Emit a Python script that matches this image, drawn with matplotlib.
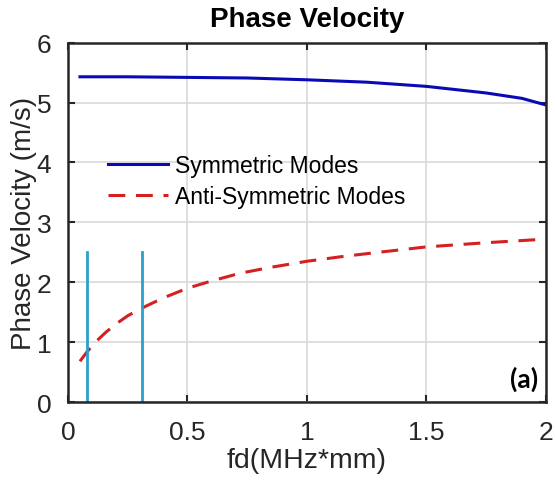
import numpy as np
import matplotlib
matplotlib.use('Agg')
import matplotlib.pyplot as plt

# values
fd_sym = [0.05, 0.25, 0.5, 0.75, 1.0, 1.25, 1.5, 1.75, 1.9, 2.0]
vel_sym = [5.43, 5.43, 5.42, 5.41, 5.38, 5.34, 5.27, 5.16, 5.07, 4.96]

fd_anti = [0.05, 0.08, 0.12, 0.16, 0.2, 0.25, 0.31, 0.4, 0.5, 0.6, 0.72, 0.85,
           1.0, 1.15, 1.3, 1.5, 1.75, 2.0]
vel_anti = [0.68, 0.84, 1.02, 1.17, 1.30, 1.44, 1.57, 1.74, 1.90, 2.02, 2.15, 2.25,
            2.35, 2.43, 2.50, 2.59, 2.66, 2.72]

marker_fd = [0.08, 0.31]
marker_top = 2.5

xticks = [0, 0.5, 1, 1.5, 2]
xticklabels = ['0', '0.5', '1', '1.5', '2']
yticks = [0, 1, 2, 3, 4, 5, 6]

plt.rcParams['font.family'] = ['Liberation Sans', 'DejaVu Sans']

fig = plt.figure(figsize=(5.55, 4.85), dpi=100)
ax = fig.add_axes([0.1225, 0.169, 0.861, 0.741])

ax.plot(fd_sym, vel_sym, color='#0a0ab4', lw=2.2, label='Symmetric Modes')
ax.plot(fd_anti, vel_anti, color='#d42020', lw=2.2, ls=(0, (5.5, 3.5)),
        label='Anti-Symmetric Modes')
for f in marker_fd:
    ax.plot([f, f], [0, marker_top], color='#2aa0cc', lw=2)

ax.set_xlim(0, 2)
ax.set_ylim(0, 6)
ax.set_xticks(xticks)
ax.set_xticklabels(xticklabels)
ax.set_yticks(yticks)
ax.grid(True, color='#d9d9d9', lw=1.2)
ax.set_axisbelow(True)
ax.tick_params(direction='in', top=True, right=True, length=5, width=1.5,
               labelsize=19, colors='#262626')
ax.tick_params(axis='x', pad=13)
ax.tick_params(axis='y', pad=12)
for s in ax.spines.values():
    s.set_linewidth(1.8)
    s.set_color('#262626')

ax.set_title('Phase Velocity', fontsize=20, fontweight='bold', pad=12)
ax.set_xlabel('fd(MHz*mm)', fontsize=20.5, color='#262626', labelpad=2)
ax.set_ylabel('Phase Velocity (m/s)', fontsize=20, color='#262626', labelpad=0)

leg = ax.legend(loc='upper left', bbox_to_anchor=(0.065, 0.715), frameon=False,
                fontsize=16.5, handlelength=2.6, handletextpad=0.3,
                labelspacing=0.33, borderaxespad=0)

ax.text(0.983, 0.03, '(a)', transform=ax.transAxes, ha='right', va='bottom',
        fontsize=19, fontweight='bold', family=['Lato', 'DejaVu Sans'])

fig.savefig('out.png', dpi=100)
